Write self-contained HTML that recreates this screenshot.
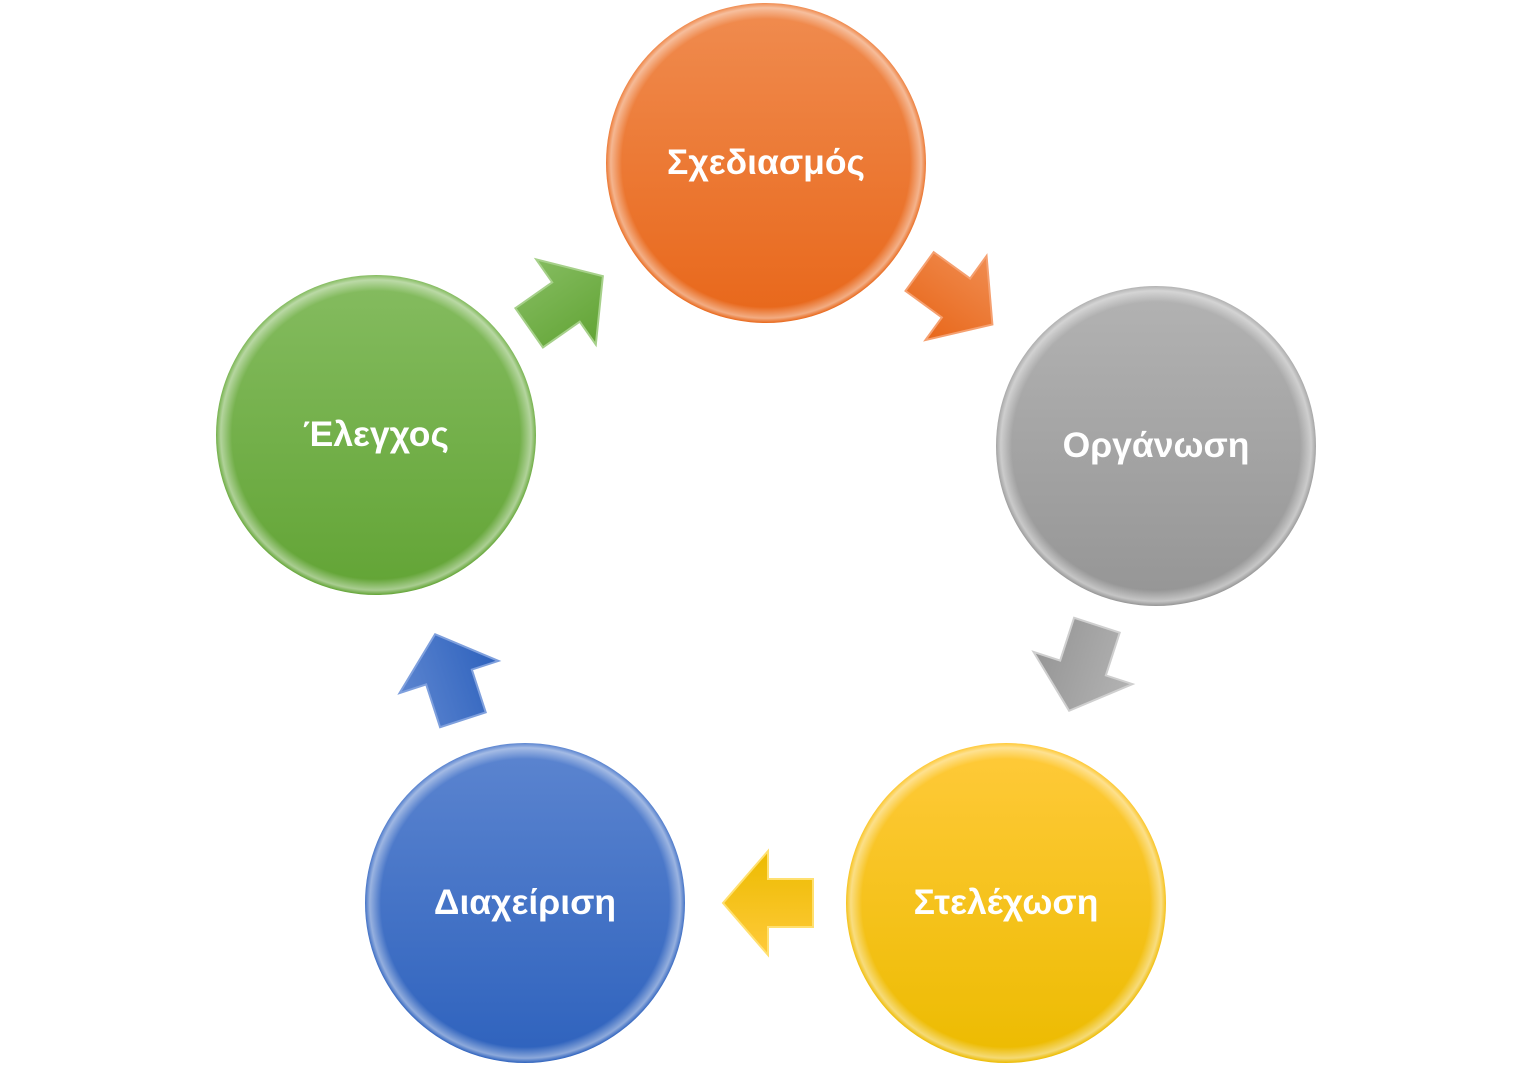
<!DOCTYPE html>
<html><head><meta charset="utf-8"><style>
html,body{margin:0;padding:0;background:#fff;}
svg{display:block;}
text{font-family:"Liberation Sans","DejaVu Sans",sans-serif;font-weight:bold;font-size:35.5px;fill:#fff;text-anchor:middle;dominant-baseline:central;}
</style></head><body>
<svg width="1533" height="1067" viewBox="0 0 1533 1067" xmlns="http://www.w3.org/2000/svg">
<defs>
<linearGradient id="go" x1="0" y1="0" x2="0" y2="1"><stop offset="0" stop-color="#f08c50"/><stop offset="1" stop-color="#e8671a"/></linearGradient>
<linearGradient id="gg" x1="0" y1="0" x2="0" y2="1"><stop offset="0" stop-color="#b3b3b3"/><stop offset="1" stop-color="#959595"/></linearGradient>
<linearGradient id="gy" x1="0" y1="0" x2="0" y2="1"><stop offset="0" stop-color="#ffca3a"/><stop offset="1" stop-color="#ecbb00"/></linearGradient>
<linearGradient id="gb" x1="0" y1="0" x2="0" y2="1"><stop offset="0" stop-color="#5c85d0"/><stop offset="1" stop-color="#2e62bd"/></linearGradient>
<linearGradient id="gn" x1="0" y1="0" x2="0" y2="1"><stop offset="0" stop-color="#85bc60"/><stop offset="1" stop-color="#62a435"/></linearGradient>
<radialGradient id="hl" cx="0.5" cy="0.5" r="0.5"><stop offset="0.9" stop-color="#fff" stop-opacity="0"/><stop offset="0.97" stop-color="#fff" stop-opacity="0.45"/><stop offset="1" stop-color="#fff" stop-opacity="0"/></radialGradient>
<path id="arr" d="M-45,-24 L0,-24 L0,-52 L45,0 L0,52 L0,24 L-45,24 Z"/>
</defs>

<circle cx="766" cy="163" r="160" fill="url(#go)"/><circle cx="766" cy="163" r="160" fill="url(#hl)"/>
<circle cx="1156" cy="446" r="160" fill="url(#gg)"/><circle cx="1156" cy="446" r="160" fill="url(#hl)"/>
<circle cx="1006" cy="903" r="160" fill="url(#gy)"/><circle cx="1006" cy="903" r="160" fill="url(#hl)"/>
<circle cx="525" cy="903" r="160" fill="url(#gb)"/><circle cx="525" cy="903" r="160" fill="url(#hl)"/>
<circle cx="376" cy="435" r="160" fill="url(#gn)"/><circle cx="376" cy="435" r="160" fill="url(#hl)"/>

<use href="#arr" transform="translate(956,298) rotate(36)" fill="url(#go)" stroke="#f5a070" stroke-width="2"/>
<use href="#arr" transform="translate(1083,668) rotate(108)" fill="url(#gg)" stroke="#cfcfcf" stroke-width="2"/>
<use href="#arr" transform="translate(768,903) rotate(180)" fill="url(#gy)" stroke="#ffe070" stroke-width="2"/>
<use href="#arr" transform="translate(449,677) rotate(252)" fill="url(#gb)" stroke="#7fa0dd" stroke-width="2"/>
<use href="#arr" transform="translate(566,302) rotate(-35)" fill="url(#gn)" stroke="#a6d08a" stroke-width="2"/>

<text x="766" y="162">Σχεδιασμός</text>
<text x="1156" y="445">Οργάνωση</text>
<text x="1006" y="902">Στελέχωση</text>
<text x="525" y="902">Διαχείριση</text>
<text x="376" y="434">Έλεγχος</text>
</svg>
</body></html>
